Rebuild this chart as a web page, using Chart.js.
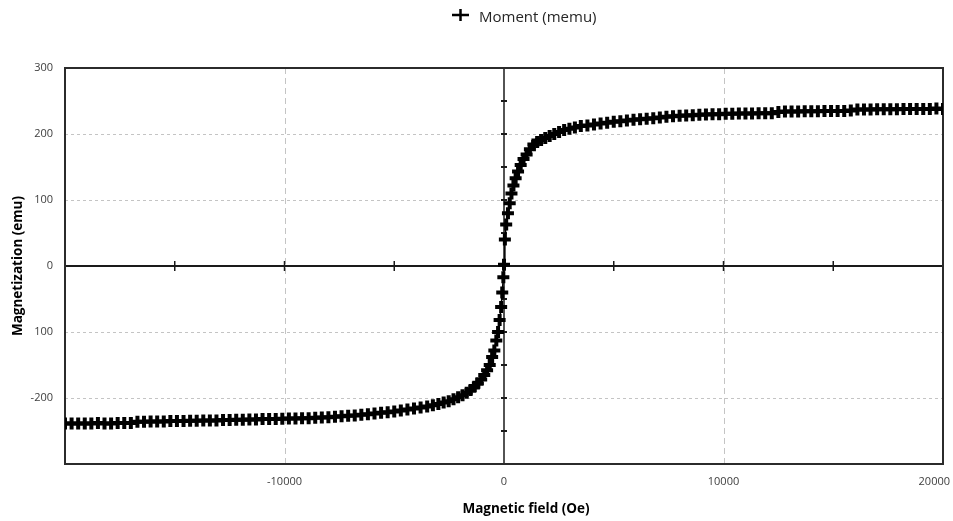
<!DOCTYPE html>
<html>
<head>
<meta charset="utf-8">
<script src="https://cdn.jsdelivr.net/npm/chart.js@4.4.1/dist/chart.umd.min.js"></script>
<style>
  html, body { margin: 0; padding: 0; background: #fff; }
  #wrap { width: 953px; height: 521px; position: relative; }
</style>
</head>
<body>
<div id="wrap"><canvas id="myChart"></canvas></div>
<script>
// Magnetic field (Oe)
const field = [
  -20000, -19700, -19400, -19100, -18800, -18500, -18200, -17900, -17600, -17300,
  -17000, -16700, -16400, -16100, -15800, -15500, -15200, -14900, -14600, -14300,
  -14000, -13700, -13400, -13100, -12800, -12500, -12200, -11900, -11600, -11300,
  -11000, -10700, -10400, -10100, -9800, -9500, -9200, -8900, -8600, -8300,
  -8000, -7700, -7400, -7100, -6800, -6500, -6200, -5900, -5600, -5300,
  -5000, -4700, -4400, -4100, -3800, -3500, -3240, -2990, -2750, -2520,
  -2300, -2090, -1890, -1700, -1520, -1350, -1190, -1040, -900, -770,
  -650, -540, -440, -350, -270, -200, -130, -80, -30, 0,
  40, 100, 180, 260, 340, 430, 530, 640, 760, 890,
  1030, 1180, 1340, 1510, 1690, 1880, 2080, 2290, 2510, 2740,
  2980, 3230, 3500, 3800, 4100, 4400, 4700, 5000, 5300, 5600,
  5900, 6200, 6500, 6800, 7100, 7400, 7700, 8000, 8300, 8600,
  8900, 9200, 9500, 9800, 10100, 10400, 10700, 11000, 11300, 11600,
  11900, 12200, 12500, 12800, 13100, 13400, 13700, 14000, 14300, 14600,
  14900, 15200, 15500, 15800, 16100, 16400, 16700, 17000, 17300, 17600,
  17900, 18200, 18500, 18800, 19100, 19400, 19700, 20000
];

// Moment (memu)
const moment = [
  -238.5, -238.5, -238.5, -238.5, -238.5, -238, -238.5, -238.5, -238, -238,
  -238, -236, -236, -235.5, -235.5, -235.5, -235, -235, -235, -234.5,
  -234.5, -234, -234, -234, -233.5, -233.5, -233, -233, -232.5, -232.5,
  -232, -232, -232, -231.5, -231, -231, -230.5, -230.5, -230, -229.5,
  -229, -228.5, -227.5, -227, -226.5, -225.5, -224.5, -223.5, -222.5, -221.5,
  -220.5, -219, -217.5, -216, -214.5, -213, -211, -209, -207, -205,
  -202, -199, -196, -192, -188, -183, -178, -172, -165, -158,
  -150, -138, -128, -113, -100, -82, -62, -40, -17, 2,
  40, 63, 80, 95, 110, 122, 133, 143, 153, 162,
  169, 177, 184, 188, 191, 194, 197, 200, 203, 206,
  208, 210, 212, 213, 214.5, 216, 217, 218.5, 219.5, 220.5,
  221.5, 222.5, 223, 224, 225, 226, 227, 227.5, 228, 228.5,
  229, 229.5, 230, 230, 230.5, 230.5, 231, 231, 231, 231.5,
  231.5, 231.5, 233.5, 234, 234, 234, 234.5, 234.5, 234.5, 235,
  235, 235, 235, 235.5, 237, 237, 237, 237.5, 237.5, 237.5,
  237.5, 238, 238, 238, 238, 238, 238.5, 238
];

const yTickValues = [300, 200, 100, 0, -100, -200, -300];
const yTickLabels = ['300', '200', '100', '0', '100', '-200', ''];
const xTickValues = [-10000, 0, 10000, 20000];
const xTickLabels = ['-10000', '0', '10000', '20000'];

const xGridValues = [-10000, 10000];
const yGridValues = [200, 100, -100, -200];
const xAxisTicks = [-15000, -10000, -5000, 5000, 10000, 15000];
const yAxisTicks = [-250, -200, -150, -100, -50, 50, 100, 150, 200, 250];

const seriesLabel = 'Moment (memu)';
const xTitle = 'Magnetic field (Oe)';
const yTitle = 'Magnetization (emu)';

// grid, zero axes with their tick marks, frame, labels and legend
const decor = {
    id: 'decor',
    beforeDatasetsDraw(chart) {
        const { ctx, chartArea: { left, right, top, bottom }, scales: { x, y } } = chart;
        ctx.save();

        ctx.lineWidth = 1;
        ctx.strokeStyle = '#c4c4c4';
        ctx.setLineDash([3, 3]);
        yGridValues.forEach(v => {
            const py = Math.round(y.getPixelForValue(v)) + 0.5;
            ctx.beginPath(); ctx.moveTo(left, py); ctx.lineTo(right, py); ctx.stroke();
        });
        ctx.setLineDash([6, 4]);
        xGridValues.forEach(v => {
            const px = Math.round(x.getPixelForValue(v)) + 0.5;
            ctx.beginPath(); ctx.moveTo(px, top); ctx.lineTo(px, bottom); ctx.stroke();
        });
        ctx.setLineDash([]);

        const x0 = x.getPixelForValue(0);
        const y0 = y.getPixelForValue(0);
        ctx.strokeStyle = '#1a1a1a';
        ctx.lineWidth = 2;
        ctx.beginPath(); ctx.moveTo(left, y0); ctx.lineTo(right, y0); ctx.stroke();
        ctx.lineWidth = 1.5;
        ctx.beginPath(); ctx.moveTo(x0, top); ctx.lineTo(x0, bottom); ctx.stroke();

        xAxisTicks.forEach(v => {
            const px = x.getPixelForValue(v);
            ctx.beginPath(); ctx.moveTo(px, y0 - 5); ctx.lineTo(px, y0 + 5); ctx.stroke();
        });
        ctx.lineWidth = 2;
        yAxisTicks.forEach(v => {
            const py = y.getPixelForValue(v);
            ctx.beginPath(); ctx.moveTo(x0 - 3, py); ctx.lineTo(x0 + 3, py); ctx.stroke();
        });

        ctx.strokeStyle = '#2b2b2b';
        ctx.lineWidth = 2;
        ctx.strokeRect(left, top, right - left, bottom - top);
        ctx.restore();
    },
    afterDraw(chart) {
        const { ctx, width, chartArea: { left, right, top, bottom }, scales: { x } } = chart;
        ctx.save();

        ctx.fillStyle = '#404040';
        ctx.font = '11px "Open Sans"';
        ctx.textBaseline = 'middle';
        ctx.textAlign = 'left';
        xTickValues.forEach((v, i) => {
            const w = ctx.measureText(xTickLabels[i]).width;
            let lx = x.getPixelForValue(v) - w / 2;
            if (lx + w > width - 3) lx = width - 3 - w;
            ctx.fillText(xTickLabels[i], lx, bottom + 18);
        });

        ctx.fillStyle = '#000';
        ctx.font = 'bold 13.5px "Open Sans"';
        ctx.textAlign = 'center';
        ctx.fillText(xTitle, 526, 509);
        ctx.save();
        ctx.translate(18, (top + bottom) / 2);
        ctx.rotate(-Math.PI / 2);
        ctx.fillText(yTitle, 0, 0);
        ctx.restore();

        // legend
        ctx.strokeStyle = '#000';
        ctx.lineWidth = 2.5;
        ctx.beginPath();
        ctx.moveTo(452, 15); ctx.lineTo(469, 15);
        ctx.moveTo(460.5, 9); ctx.lineTo(460.5, 21);
        ctx.stroke();
        ctx.fillStyle = '#262626';
        ctx.font = '15px "Open Sans"';
        ctx.textAlign = 'left';
        ctx.fillText(seriesLabel, 479, 18);
        ctx.restore();
    }
};

const ctx = document.getElementById('myChart').getContext('2d');

const chart = new Chart(ctx, {
    type: 'scatter',
    data: {
        datasets: [
            {
                label: seriesLabel,
                data: field.map((h, i) => ({ x: h, y: moment[i] })),
                showLine: true,
                borderColor: '#000',
                borderWidth: 1.5,
                pointStyle: 'cross',
                pointRadius: 6,
                pointHoverRadius: 6,
                pointBorderWidth: 4,
                pointBorderColor: '#000',
            }
        ]
    },
    options: {
        responsive: true,
        maintainAspectRatio: false,
        animation: false,
        layout: { padding: { top: 68, right: 7, bottom: 57, left: 0 } },
        plugins: {
            legend: { display: false },
            tooltip: { enabled: false }
        },
        scales: {
            x: { type: 'linear', min: -20000, max: 20000, display: false },
            y: {
                min: -300,
                max: 300,
                grid: { display: false, drawTicks: false },
                border: { display: false },
                ticks: {
                    stepSize: 100,
                    padding: 12,
                    color: '#404040',
                    font: { family: 'Open Sans', size: 11 },
                    callback: (v) => {
                        const i = yTickValues.indexOf(v);
                        return i < 0 ? '' : yTickLabels[i];
                    }
                },
                afterFit: (scale) => { scale.width = 65; }
            }
        }
    },
    plugins: [decor]
});
</script>
</body>
</html>
